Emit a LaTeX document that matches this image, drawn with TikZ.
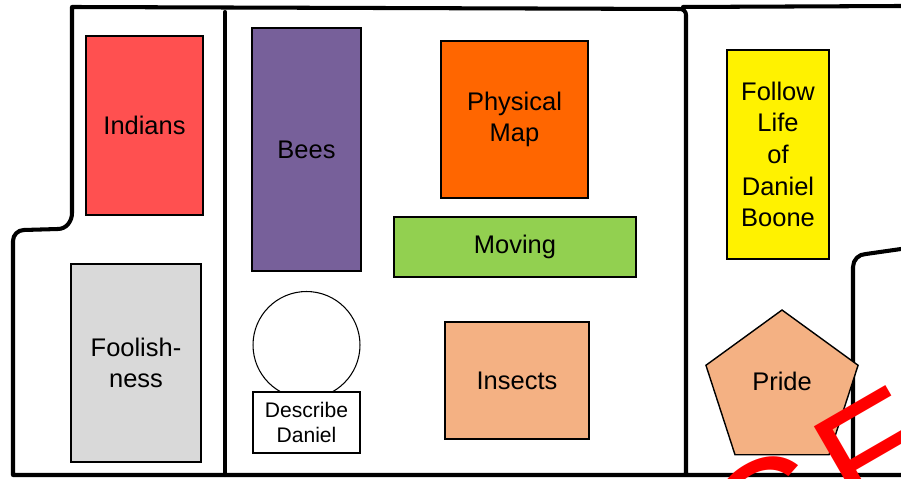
\documentclass[tikz,border=0pt]{standalone}
\usepackage{fontspec}
\setmainfont{Liberation Sans}
\usetikzlibrary{shapes.geometric}
\definecolor{indianred}{HTML}{FF5050}
\definecolor{foolgray}{HTML}{D9D9D9}
\definecolor{beepurple}{HTML}{77609A}
\definecolor{maporange}{HTML}{FF6600}
\definecolor{movegreen}{HTML}{92D050}
\definecolor{peach}{HTML}{F4B183}
\tikzset{
  wall/.style={line width=2.3pt, line join=round, line cap=round},
  topic/.style={draw, line width=0.8pt, align=center, inner sep=0pt, font=\fontsize{14.5}{18}\selectfont},
}
\begin{document}
\begin{tikzpicture}[x=0.02cm,y=0.02cm]
    \clip (0,0) rectangle (901,479);
    \fill[white] (0,0) rectangle (901,479);
    %% walls
    \draw[wall] (686,4) -- (686,464) to[out=90,in=0] (680,470) -- (72,472) -- (72,266)
        to[out=-90,in=0] (58,250) -- (24,249) to[out=180,in=90] (13,238) -- (13,4) -- (901,4);
    \draw[wall] (225,467) -- (225,4);
    \draw[wall] (683,472) -- (901,473);
    \draw[wall] (853,4) -- (853,212) to[out=90,in=180] (866,225) -- (901,230);
    %% left room
    \node[topic, fill=indianred, minimum width=2.34cm, minimum height=3.58cm] (indians) at (144.5,353.5) {Indians};
    \node[topic, fill=foolgray, minimum width=2.6cm, minimum height=3.96cm] (foolish) at (136,116) {Foolish-\\ness};
    %% middle room
    \node[topic, fill=beepurple, minimum width=2.18cm, minimum height=4.86cm] (bees) at (306.5,329.5) {Bees};
    \node[topic, fill=maporange, minimum width=2.94cm, minimum height=3.14cm] (map) at (514.5,359.5) {Physical\\Map};
    \node[topic, fill=movegreen, minimum width=4.84cm, minimum height=1.2cm] (moving) at (515,232) {Moving};
    \node[draw, circle, line width=0.6pt, minimum size=2.14cm] (head) at (306.5,134) {};
    \node[topic, fill=white, minimum width=2.14cm, minimum height=1.22cm, font=\fontsize{12}{14.7}\selectfont] (describe) at (306.5,56.5) {Describe\\Daniel};
    \node[topic, fill=peach, minimum width=2.88cm, minimum height=2.34cm] (insects) at (517,98.5) {Insects};
    %% right room
    \node[topic, fill=yellow, minimum width=2.04cm, minimum height=4.18cm] (boone) at (778,324.5) {Follow\\Life\\of\\Daniel\\Boone};
    \node[topic, fill=peach, regular polygon, regular polygon sides=5, minimum size=3.2cm] (pride) at (782,89) {};
    \node[font=\fontsize{14.5}{18}\selectfont] (pridetext) at ([yshift=0.18cm]pride.center) {Pride};
    %% stamp
    \node[text=red, rotate=30, anchor=base west, inner sep=0pt, font=\fontsize{90}{100}\selectfont] (stamp) at (747.5,-112.5) {C\kern0.08em E};
\end{tikzpicture}
\end{document}
